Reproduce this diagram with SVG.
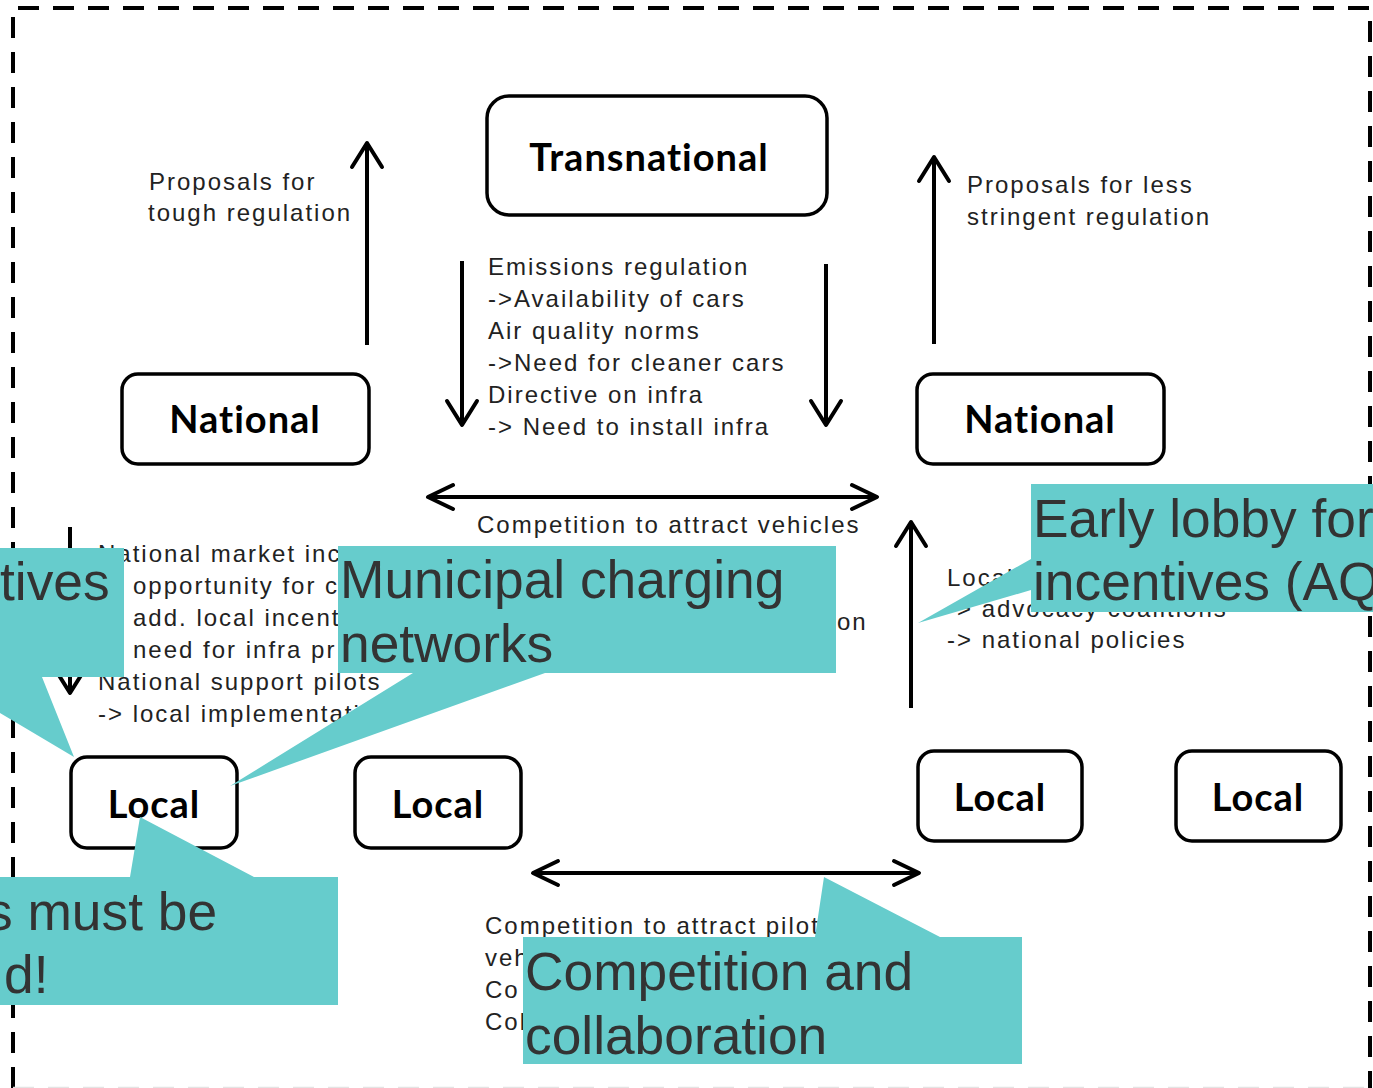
<svg xmlns="http://www.w3.org/2000/svg" width="1373" height="1088" viewBox="0 0 1373 1088">
<style>
.node{fill:#fff;stroke:#000;stroke-width:3.5}
.nlabel{font-family:Lato,"Open Sans","Liberation Sans",sans-serif;font-weight:700;font-size:38px;letter-spacing:1px;fill:#000;text-anchor:middle}
.small{font-family:"Liberation Sans",Arial,sans-serif;font-size:24px;letter-spacing:2px;fill:#222}
.conn{stroke:#000;stroke-width:4;fill:none}
.callout{fill:#66CCCC}
.ctext{font-family:"Liberation Sans",Arial,sans-serif;font-size:53.3px;fill:#333}
</style>
<defs>
<marker id="arrV" markerUnits="userSpaceOnUse" orient="auto-start-reverse" refX="0" refY="0" markerWidth="1" markerHeight="1" overflow="visible">
<path d="M -24 -15 L 0 0 L -24 15" fill="none" stroke="#000" stroke-width="4" stroke-linecap="round" stroke-linejoin="round"/>
</marker>
<marker id="arrH" markerUnits="userSpaceOnUse" orient="auto-start-reverse" refX="0" refY="0" markerWidth="1" markerHeight="1" overflow="visible">
<path d="M -25 -12 L 0 0 L -25 12" fill="none" stroke="#000" stroke-width="4" stroke-linecap="round" stroke-linejoin="round"/>
</marker>
</defs>
<rect width="1373" height="1088" fill="#fff"/>
<g id="frame">
<path d="M 13 1088 L 13 8 L 1370 8 L 1370 1088" fill="none" stroke="#000" stroke-width="4" stroke-dasharray="21 14"/>
<line x1="13" y1="1087.5" x2="1370" y2="1087.5" stroke="#e4e4e4" stroke-width="1.5" stroke-dasharray="21 14"/>
</g>
<g id="connectors">
<line class="conn" x1="367" y1="345" x2="367" y2="143" marker-end="url(#arrV)"/>
<line class="conn" x1="934" y1="344" x2="934" y2="157" marker-end="url(#arrV)"/>
<line class="conn" x1="462" y1="261" x2="462" y2="425" marker-end="url(#arrV)"/>
<line class="conn" x1="826" y1="264" x2="826" y2="425" marker-end="url(#arrV)"/>
<line class="conn" x1="428" y1="497" x2="877" y2="497" marker-start="url(#arrH)" marker-end="url(#arrH)"/>
<line class="conn" x1="70" y1="527" x2="70" y2="693" marker-end="url(#arrV)"/>
<line class="conn" x1="911" y1="708" x2="911" y2="522" marker-end="url(#arrV)"/>
<line class="conn" x1="533" y1="873" x2="919" y2="873" marker-start="url(#arrH)" marker-end="url(#arrH)"/>
</g>
<g id="transnational">
<rect class="node" x="487" y="96" width="340" height="119" rx="22"/>
<text class="nlabel" x="649" y="171">Transnational</text>
</g>
<g id="national-left">
<rect class="node" x="122" y="374" width="247" height="90" rx="16"/>
<text class="nlabel" x="245" y="433">National</text>
</g>
<g id="national-right">
<rect class="node" x="917" y="374" width="247" height="90" rx="16"/>
<text class="nlabel" x="1040" y="433">National</text>
</g>
<g id="local-1">
<rect class="node" x="71" y="757" width="166" height="91" rx="16"/>
<text class="nlabel" x="154" y="818">Local</text>
</g>
<g id="local-2">
<rect class="node" x="355" y="757" width="166" height="91" rx="16"/>
<text class="nlabel" x="438" y="818">Local</text>
</g>
<g id="local-3">
<rect class="node" x="918" y="751" width="164" height="90" rx="16"/>
<text class="nlabel" x="1000" y="811">Local</text>
</g>
<g id="local-4">
<rect class="node" x="1176" y="751" width="165" height="90" rx="16"/>
<text class="nlabel" x="1258" y="811">Local</text>
</g>
<g id="labels">
<text class="small" x="149" y="190">Proposals for</text>
<text class="small" x="148" y="221">tough regulation</text>
<text class="small" x="967" y="193">Proposals for less</text>
<text class="small" x="967" y="225">stringent regulation</text>
<text class="small" x="488" y="275">Emissions regulation</text>
<text class="small" x="488" y="307">-&gt;Availability of cars</text>
<text class="small" x="488" y="339">Air quality norms</text>
<text class="small" x="488" y="371">-&gt;Need for cleaner cars</text>
<text class="small" x="488" y="403">Directive on infra</text>
<text class="small" x="488" y="435">-&gt; Need to install infra</text>
<text class="small" x="477" y="533">Competition to attract vehicles</text>
<text class="small" x="98" y="562">National market inc</text>
<text class="small" x="133" y="594">opportunity for c</text>
<text class="small" x="133" y="626">add. local incent</text>
<text class="small" x="133" y="658">need for infra pr</text>
<text class="small" x="98" y="690">National support pilots</text>
<text class="small" x="98" y="722">-&gt; local implementati</text>
<text class="small" x="837" y="630">on</text>
<text class="small" x="947" y="586">Local</text>
<text class="small" x="947" y="617">-&gt; advocacy coalitions</text>
<text class="small" x="947" y="648">-&gt; national policies</text>
<text class="small" x="485" y="934">Competition to attract pilot</text>
<text class="small" x="485" y="966">veh</text>
<text class="small" x="485" y="998">Co</text>
<text class="small" x="485" y="1030">Col</text>
</g>
<g id="callout-incentives">
<path class="callout" d="M -10 548 H 124 V 677 H 42 L 74 757 L -10 707 Z"/>
<text class="ctext" x="0" y="600">tives</text>
</g>
<g id="callout-municipal">
<path class="callout" d="M 338 546 H 836 V 673 H 545 L 230 786 L 413 673 H 338 Z"/>
<text class="ctext" x="340" y="598">Municipal charging</text>
<text class="ctext" x="340" y="662">networks</text>
</g>
<g id="callout-must">
<path class="callout" d="M -10 877 H 130 L 140 817 L 254 877 H 338 V 1005 H -10 Z"/>
<text class="ctext" x="-14" y="930">s must be</text>
<text class="ctext" x="4" y="993">d!</text>
</g>
<g id="callout-lobby">
<path class="callout" d="M 1031 484 H 1385 V 612 H 1031 V 590 L 918 623 L 1031 559 Z"/>
<text class="ctext" x="1033" y="537">Early lobby for</text>
<text class="ctext" x="1033" y="600">incentives (AQ</text>
</g>
<g id="callout-competition">
<path class="callout" d="M 523 937 H 815 L 824 877 L 940 937 H 1022 V 1064 H 523 Z"/>
<text class="ctext" x="525" y="990">Competition and</text>
<text class="ctext" x="525" y="1054">collaboration</text>
</g>
</svg>
